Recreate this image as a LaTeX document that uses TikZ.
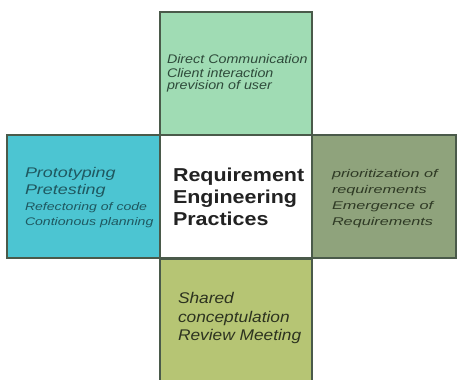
\documentclass[tikz,border=0pt]{standalone}
\usepackage{fontspec}
\setmainfont{Liberation Sans}
\newfontfamily\fTop[FakeStretch=1.14]{Liberation Sans}
\newfontfamily\fLeft[FakeStretch=1.28]{Liberation Sans}
\newfontfamily\fRight[FakeStretch=1.45]{Liberation Sans}
\newfontfamily\fBot[FakeStretch=1.12]{Liberation Sans}
\newfontfamily\fMid[FakeStretch=1.15]{Liberation Sans}
\definecolor{cTop}{HTML}{A0DCB4}
\definecolor{cLeft}{HTML}{4CC5D2}
\definecolor{cRight}{HTML}{8FA37C}
\definecolor{cBot}{HTML}{B6C574}
\definecolor{cBorder}{HTML}{4A5A4A}
\definecolor{tTop}{HTML}{2E4A3A}
\definecolor{tLeft}{HTML}{1F5860}
\definecolor{tRight}{HTML}{2F3A25}
\definecolor{tBot}{HTML}{2D3320}
\definecolor{tMid}{HTML}{222222}
\tikzset{
  panel/.style={draw=cBorder, line width=1.5pt, inner sep=0pt, rectangle},
  txt/.style={anchor=base west, inner sep=0pt, outer sep=0pt},
}
\begin{document}
\begin{tikzpicture}[x=0.75pt,y=-0.75pt]
\useasboundingbox (0,0) rectangle (457,379);
\clip (0,0) rectangle (457,379);
\fill[white] (0,0) rectangle (457,379);
% panels
\node[panel, fill=cTop, minimum width=114pt, minimum height=92.25pt] (top) at (236,73.5) {};
\node[panel, fill=cLeft, minimum width=114.75pt, minimum height=92.25pt] (left) at (83.5,196.5) {};
\node[panel, fill=cRight, minimum width=108pt, minimum height=92.25pt] (right) at (384,196.5) {};
\node[panel, fill=cBot, minimum width=114pt, minimum height=97.5pt] (bot) at (236,323.5) {};
\node[panel, fill=white, minimum width=114pt, minimum height=92.25pt] (mid) at (236,196.5) {};
% top text
\node[txt, font=\fTop\itshape\fontsize{9.4pt}{9.4pt}\selectfont, text=tTop] (t1) at (167,63.5) {Direct Communication};
\node[txt, font=\fTop\itshape\fontsize{9.4pt}{9.4pt}\selectfont, text=tTop] (t2) at (167,77) {Client interaction};
\node[txt, font=\fTop\itshape\fontsize{9.4pt}{9.4pt}\selectfont, text=tTop] (t3) at (167,89.5) {prevision of user};
% left text
\node[txt, font=\fLeft\itshape\fontsize{10.5pt}{10.5pt}\selectfont, text=tLeft] (l1) at (25,177) {Prototyping};
\node[txt, font=\fLeft\itshape\fontsize{10.5pt}{10.5pt}\selectfont, text=tLeft] (l2) at (25,194) {Pretesting};
\node[txt, font=\fLeft\itshape\fontsize{8.25pt}{8.25pt}\selectfont, text=tLeft] (l3) at (25,210.7) {Refectoring of code};
\node[txt, font=\fLeft\itshape\fontsize{8.25pt}{8.25pt}\selectfont, text=tLeft] (l4) at (25,225) {Contionous planning};
% right text
\node[txt, font=\fRight\itshape\fontsize{8.4pt}{8.4pt}\selectfont, text=tRight] (r1) at (332,177) {prioritization of};
\node[txt, font=\fRight\itshape\fontsize{8.4pt}{8.4pt}\selectfont, text=tRight] (r2) at (332,193) {requirements};
\node[txt, font=\fRight\itshape\fontsize{8.4pt}{8.4pt}\selectfont, text=tRight] (r3) at (332,209) {Emergence of};
\node[txt, font=\fRight\itshape\fontsize{8.4pt}{8.4pt}\selectfont, text=tRight] (r4) at (332,225) {Requirements};
% bottom text
\node[txt, font=\fBot\itshape\fontsize{11.6pt}{11.6pt}\selectfont, text=tBot] (b1) at (178,303.3) {Shared};
\node[txt, font=\fBot\itshape\fontsize{11.6pt}{11.6pt}\selectfont, text=tBot] (b2) at (178,322.5) {conceptulation};
\node[txt, font=\fBot\itshape\fontsize{11.6pt}{11.6pt}\selectfont, text=tBot] (b3) at (178,340.7) {Review Meeting};
% middle text
\node[txt, font=\fMid\bfseries\fontsize{14pt}{14pt}\selectfont, text=tMid] (m1) at (173,181.7) {Requirement};
\node[txt, font=\fMid\bfseries\fontsize{14pt}{14pt}\selectfont, text=tMid] (m2) at (173,203.3) {Engineering};
\node[txt, font=\fMid\bfseries\fontsize{14pt}{14pt}\selectfont, text=tMid] (m3) at (173,225) {Practices};
\end{tikzpicture}
\end{document}
